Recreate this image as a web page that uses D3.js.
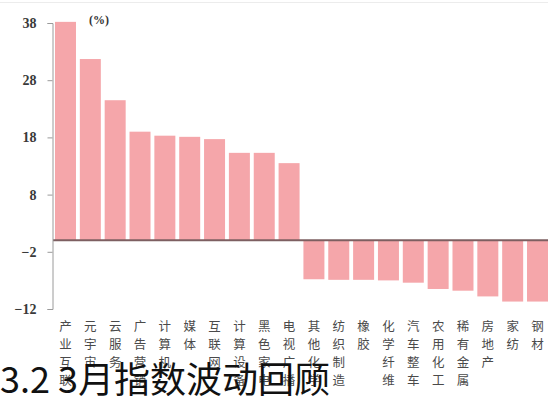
<!DOCTYPE html>
<html>
<head>
<meta charset="utf-8">
<script src="https://cdn.jsdelivr.net/npm/d3@7"></script>
<style>
  html, body { margin: 0; padding: 0; background: #fff; }
  svg { display: block; }
</style>
</head>
<body>
<svg id="chart" width="548" height="399"></svg>
<script>
// Industry index changes in March (%), sorted high to low
const categories = [
  "产业互联", "元宇宙", "云服务", "广告营销", "计算机", "媒体", "互联网",
  "计算设备", "黑色家电", "电视广播", "其他化学", "纺织制造", "橡胶",
  "化学纤维", "汽车整车", "农用化工", "稀有金属", "房地产", "家纺", "钢材"
];
const values = [
  38.2, 31.7, 24.5, 19.0, 18.3, 18.1, 17.7, 15.3, 15.3, 13.5,
  -6.8, -6.9, -6.9, -7.0, -7.4, -8.5, -8.8, -9.8, -10.7, -10.7
];
const yTicks = [38, 28, 18, 8, -2, -12];
const unitLabel = "(%)";
const title = "3.2 3月指数波动回顾";

const svg = d3.select("#chart");

const x = d3.scaleBand()
  .domain(categories)
  .range([53, 550])
  .paddingInner(0.155)
  .paddingOuter(0.08);

const y = d3.scaleLinear()
  .domain([-12, 38])
  .range([309, 23]);

// faint frame line along the top
svg.append("line")
  .attr("x1", 0).attr("x2", 548)
  .attr("y1", 2.5).attr("y2", 2.5)
  .attr("stroke", "#ececec").attr("stroke-width", 1);

// bars
svg.append("g")
  .selectAll("rect")
  .data(values)
  .join("rect")
  .attr("x", (d, i) => x(categories[i]))
  .attr("width", x.bandwidth())
  .attr("y", d => y(Math.max(0, d)))
  .attr("height", d => Math.abs(y(d) - y(0)))
  .attr("fill", "#f5a6aa");

// zero line
svg.append("line")
  .attr("x1", 53).attr("x2", 548)
  .attr("y1", y(0)).attr("y2", y(0))
  .attr("stroke", "#7d5f61").attr("stroke-width", 2);

// y axis
const yAxis = svg.append("g")
  .attr("transform", "translate(52.5,0)")
  .call(d3.axisLeft(y).tickValues(yTicks).tickSize(5).tickPadding(11).tickFormat(d3.format("d")));
yAxis.select(".domain").attr("stroke", "#9a9a9a");
yAxis.selectAll(".tick line").attr("stroke", "#9a9a9a");
yAxis.selectAll(".tick text")
  .attr("font-family", "'Liberation Serif', 'DejaVu Serif', serif")
  .attr("font-size", 14)
  .attr("font-weight", "bold")
  .attr("fill", "#3a3a3a");

// unit label
svg.append("text")
  .attr("x", 89).attr("y", 24)
  .attr("font-family", "'Liberation Serif', serif")
  .attr("font-size", 12)
  .attr("font-weight", "bold")
  .attr("fill", "#333")
  .text(unitLabel);

// vertical category labels, one character per row
const labelG = svg.append("g")
  .attr("font-family", "'Noto Sans CJK SC', sans-serif")
  .attr("font-size", 12.5)
  .attr("fill", "#4a4a4a")
  .attr("text-anchor", "middle");
categories.forEach(c => {
  const cx = x(c) + x.bandwidth() / 2;
  Array.from(c).forEach((ch, k) => {
    labelG.append("text")
      .attr("x", cx)
      .attr("y", 331 + k * 18)
      .text(ch);
  });
});

// section heading
svg.append("text")
  .attr("x", 0).attr("y", 393)
  .attr("font-family", "'Noto Sans CJK SC', sans-serif")
  .attr("font-size", 36)
  .attr("fill", "#111")
  .text(title);
</script>
</body>
</html>
